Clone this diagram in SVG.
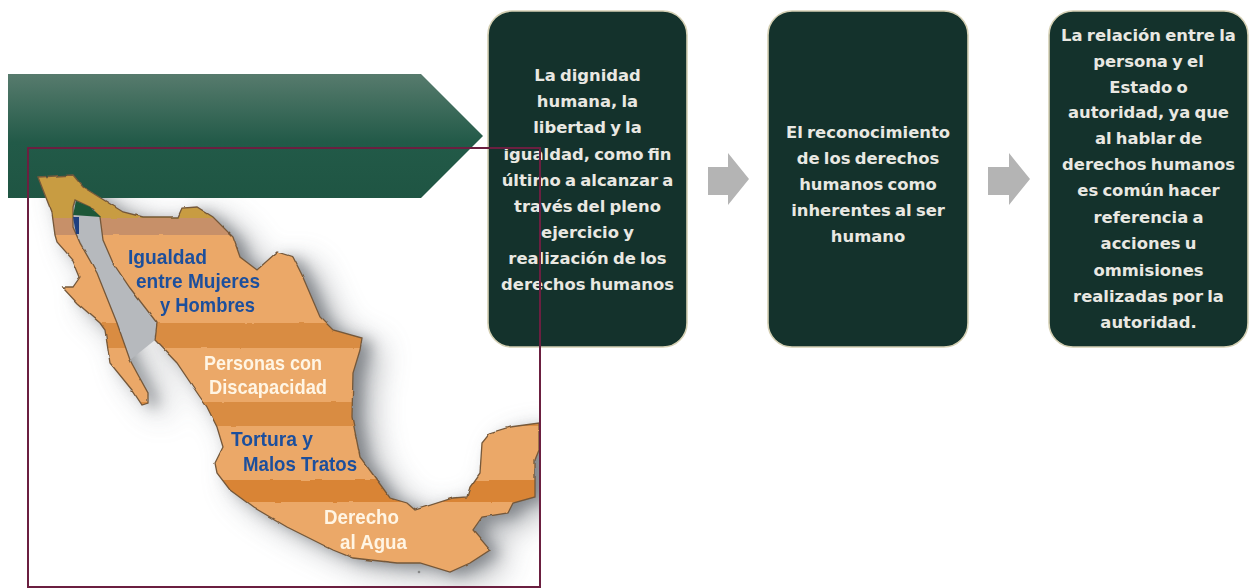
<svg xmlns="http://www.w3.org/2000/svg" width="1249" height="588" viewBox="0 0 1249 588">
<style>
.card{fill:#14322c;stroke:#d5d0b4;stroke-width:1.6}
.ct{font-family:"DejaVu Sans",Inter,sans-serif;font-weight:700;font-size:16.4px;word-spacing:-1.5px;fill:#e9e8e2;text-anchor:middle}
.mt{font-family:"Liberation Sans",Arial,sans-serif;font-weight:700;font-size:20.5px}
.b{fill:#1f4f9c}.w{fill:#fff5e4}
.arrow{fill:#b4b4b4}
</style>
<defs>
<linearGradient id="bg" x1="0" y1="0" x2="0" y2="1">
<stop offset="0" stop-color="#577b6d"/><stop offset=".55" stop-color="#225a48"/><stop offset="1" stop-color="#1f5543"/>
</linearGradient>
<filter id="sh" x="-20%" y="-20%" width="140%" height="140%"><feGaussianBlur stdDeviation="16"/></filter>
<filter id="sh2" x="-20%" y="-20%" width="140%" height="140%"><feGaussianBlur stdDeviation="7"/></filter>
<filter id="rough" x="-3%" y="-3%" width="106%" height="106%"><feTurbulence type="fractalNoise" baseFrequency="0.07" numOctaves="2" seed="4"/><feDisplacementMap in="SourceGraphic" scale="2.500" xChannelSelector="R" yChannelSelector="G"/></filter>
<filter id="soft" x="-5%" y="-5%" width="110%" height="110%"><feGaussianBlur stdDeviation="0.35"/></filter>
<clipPath id="frame"><rect x="28" y="198" width="512" height="389"/></clipPath>
<clipPath id="frame2"><rect x="28" y="148" width="512" height="439"/></clipPath>
<path id="main" d="M38 177L73 175L83 187L123 212L143 217L178 217L182 208L197 207L213 217L233 237L240 257L257 270L277 252L293 257L302 275L320 317L333 330L362 338L360 350L353 373L352 417L360 457L377 480L390 498L407 503L415 510L453 498L467 497L470 487L480 473L482 443L490 433L510 427L539 423L539 450L535 460L535 497L513 503L508 513L482 517L473 530L490 550L470 563L450 572L420 563L397 563L353 558L333 550L287 527L253 507L230 490L217 473L215 463L223 447L217 427L207 407L200 397L177 363L155 340L157 323L130 288L113 263L103 240L100 217L90 207L75 200L73 207L73 227L80 243L97 273L117 323L130 360L137 373L148 393L148 403L142 405L132 390L110 363L105 330L100 323L77 303L62 287L73 287L80 277L73 260L57 242L55 235L52 213Z"/>
<clipPath id="mapclip"><use href="#main"/></clipPath>
</defs>
<rect width="1249" height="588" fill="#fff"/>
<g id="banner"><polygon points="8,74 421,74 483,136 421,198 8,198" fill="url(#bg)"/></g>
<g id="map">
<g clip-path="url(#frame)"><use href="#main" fill="#71767c" filter="url(#sh)" transform="translate(18 10)" opacity=".6"/>
<use href="#main" fill="#555a60" filter="url(#sh2)" transform="translate(10 4)" opacity=".5"/>
<polygon points="73,205 100,215 103,240 130,288 157,323 155,340 130,360 117,323 97,273 73,227" fill="#b6b9bd"/></g>
<g filter="url(#rough)" clip-path="url(#frame2)">
<g clip-path="url(#mapclip)">
<rect x="28" y="170" width="512" height="420" fill="#eba868"/>
<rect x="28" y="170" width="512" height="48" fill="#c89c42"/>
<rect x="28" y="218" width="512" height="17" fill="#c79069"/>
<rect x="28" y="323" width="512" height="25" fill="#d98c42"/>
<rect x="28" y="402" width="512" height="24" fill="#d98c42"/>
<rect x="28" y="480" width="512" height="22" fill="#d98434"/>
</g>
<use href="#main" fill="none" stroke="#75583a" stroke-width="1.300"/>
</g>
<path d="M73 215L76 201L90 207L101 217Z" fill="#1d5738"/>
<path d="M73 217H79V234L76 234Z" fill="#1d3f80"/>
<circle cx="419" cy="572" r="1.300" fill="#888"/>
<g filter="url(#soft)">
<text class="mt b" x="128" y="264" textLength="79" lengthAdjust="spacingAndGlyphs">Igualdad</text>
<text class="mt b" x="136" y="288" textLength="124" lengthAdjust="spacingAndGlyphs">entre Mujeres</text>
<text class="mt b" x="160" y="312" textLength="95" lengthAdjust="spacingAndGlyphs">y Hombres</text>
<text class="mt w" x="204" y="370" textLength="118" lengthAdjust="spacingAndGlyphs">Personas con</text>
<text class="mt w" x="209" y="394" textLength="118" lengthAdjust="spacingAndGlyphs">Discapacidad</text>
<text class="mt b" x="231" y="446" textLength="82" lengthAdjust="spacingAndGlyphs">Tortura y</text>
<text class="mt b" x="243" y="471" textLength="114" lengthAdjust="spacingAndGlyphs">Malos Tratos</text>
<text class="mt w" x="324" y="524" textLength="75" lengthAdjust="spacingAndGlyphs">Derecho</text>
<text class="mt w" x="340" y="549" textLength="67" lengthAdjust="spacingAndGlyphs">al Agua</text>
</g>
</g>
<g id="card1"><rect class="card" x="488" y="11" width="199" height="336" rx="24"/>
<text class="ct" x="587.500" y="81">La dignidad</text>
<text class="ct" x="587.500" y="107">humana, la</text>
<text class="ct" x="587.500" y="133">libertad y la</text>
<text class="ct" x="587.500" y="160">igualdad, como fin</text>
<text class="ct" x="587.500" y="186">último a alcanzar a</text>
<text class="ct" x="587.500" y="212">través del pleno</text>
<text class="ct" x="587.500" y="238">ejercicio y</text>
<text class="ct" x="587.500" y="264">realización de los</text>
<text class="ct" x="587.500" y="290">derechos humanos</text>
</g>
<g id="card2"><rect class="card" x="768" y="11" width="200" height="336" rx="24"/>
<text class="ct" x="868" y="138">El reconocimiento</text>
<text class="ct" x="868" y="164">de los derechos</text>
<text class="ct" x="868" y="190">humanos como</text>
<text class="ct" x="868" y="216">inherentes al ser</text>
<text class="ct" x="868" y="242">humano</text>
</g>
<g id="card3"><rect class="card" x="1049" y="11" width="199" height="336" rx="24"/>
<text class="ct" x="1148.500" y="41">La relación entre la</text>
<text class="ct" x="1148.500" y="67">persona y el</text>
<text class="ct" x="1148.500" y="93">Estado o</text>
<text class="ct" x="1148.500" y="118">autoridad, ya que</text>
<text class="ct" x="1148.500" y="144">al hablar de</text>
<text class="ct" x="1148.500" y="170">derechos humanos</text>
<text class="ct" x="1148.500" y="196">es común hacer</text>
<text class="ct" x="1148.500" y="223">referencia a</text>
<text class="ct" x="1148.500" y="249">acciones u</text>
<text class="ct" x="1148.500" y="276">ommisiones</text>
<text class="ct" x="1148.500" y="302">realizadas por la</text>
<text class="ct" x="1148.500" y="328">autoridad.</text>
</g>
<g id="connectors">
<polygon class="arrow" points="708,167 728,167 728,153 749,179 728,205 728,195 708,195"/>
<polygon class="arrow" points="988,167 1009,167 1009,153 1030,179 1009,205 1009,195 988,195"/>
</g>
<g id="frame-box"><rect x="28" y="148" width="512" height="439" fill="none" stroke="#6b1f40" stroke-width="2"/></g>
</svg>
